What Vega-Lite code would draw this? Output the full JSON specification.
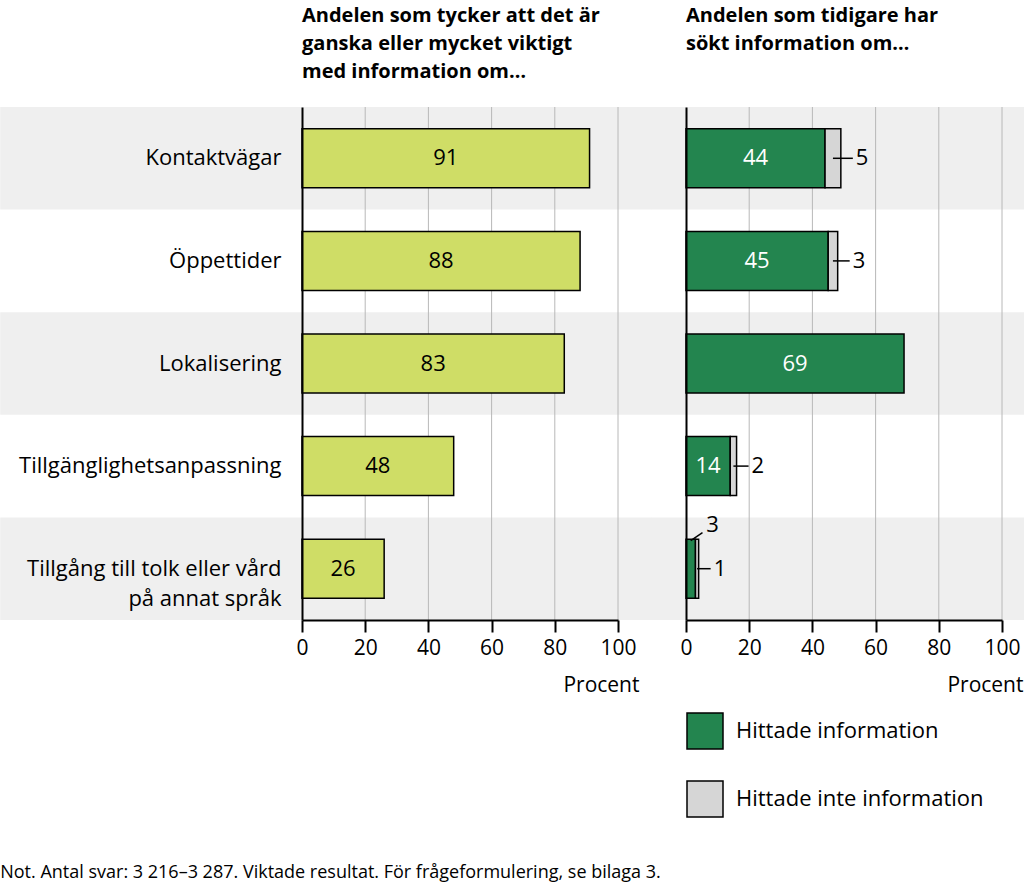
{
  "$schema": "https://vega.github.io/schema/vega-lite/v6.json",
  "padding": {"top": 5, "left": 0, "right": 0, "bottom": 0},
  "autosize": {"type": "pad"},
  "background": "white",
  "config": {"font": "Open Sans", "view": {"stroke": null}, "legend": {"padding": 0}},
  "datasets": {
    "viktigt": [
      {"kategori": "Kontaktvägar", "procent": 91},
      {"kategori": "Öppettider", "procent": 88},
      {"kategori": "Lokalisering", "procent": 83},
      {"kategori": "Tillgänglighetsanpassning", "procent": 48},
      {"kategori": "Tillgång till tolk eller vård på annat språk", "procent": 26}
    ],
    "sokt": [
      {"kategori": "Kontaktvägar", "status": "Hittade information", "procent": 44},
      {"kategori": "Kontaktvägar", "status": "Hittade inte information", "procent": 5},
      {"kategori": "Öppettider", "status": "Hittade information", "procent": 45},
      {"kategori": "Öppettider", "status": "Hittade inte information", "procent": 3},
      {"kategori": "Lokalisering", "status": "Hittade information", "procent": 69},
      {"kategori": "Tillgänglighetsanpassning", "status": "Hittade information", "procent": 14},
      {"kategori": "Tillgänglighetsanpassning", "status": "Hittade inte information", "procent": 2},
      {"kategori": "Tillgång till tolk eller vård på annat språk", "status": "Hittade information", "procent": 3},
      {"kategori": "Tillgång till tolk eller vård på annat språk", "status": "Hittade inte information", "procent": 1}
    ],
    "grid": [{"v": 20}, {"v": 40}, {"v": 60}, {"v": 80}, {"v": 100}]
  },
  "title": {
    "text": "Not. Antal svar: 3 216–3 287. Viktade resultat. För frågeformulering, se bilaga 3.",
    "orient": "bottom", "anchor": "start", "fontSize": 18, "fontWeight": "normal", "color": "black", "offset": 44
  },
  "spacing": 68,
  "bounds": "flush",
  "resolve": {"scale": {"x": "independent", "y": "independent", "color": "independent"}},
  "hconcat": [
    {
      "width": 316, "height": 513,
      "title": {
        "text": ["Andelen som tycker att det är", "ganska eller mycket viktigt", "med information om…"],
        "anchor": "start", "frame": "group", "fontSize": 20, "fontWeight": "bold", "lineHeight": 28, "color": "black", "offset": 25
      },
      "layer": [
        {
          "data": {"name": "viktigt"},
          "transform": [{"filter": {"field": "kategori", "oneOf": ["Kontaktvägar", "Lokalisering", "Tillgång till tolk eller vård på annat språk"]}}],
          "mark": {"type": "rect", "fill": "#efefef"},
          "encoding": {
            "y": {"field": "kategori", "type": "nominal",
              "scale": {"domain": ["Kontaktvägar", "Öppettider", "Lokalisering", "Tillgänglighetsanpassning", "Tillgång till tolk eller vård på annat språk"], "paddingInner": 0, "paddingOuter": 0},
              "axis": {"title": null, "ticks": false, "domain": true, "domainColor": "black", "domainWidth": 2, "labelFontSize": 22, "labelColor": "black", "labelPadding": 21, "labelLimit": 0, "zindex": 1, "labelLineHeight": 30,
                "labelExpr": "datum.value == 'Tillgång till tolk eller vård på annat språk' ? ['Tillgång till tolk eller vård', 'på annat språk'] : datum.label"}},
            "x": {"datum": -95.5, "type": "quantitative"},
            "x2": {"datum": 110.8}
          }
        },
        {
          "data": {"name": "grid"},
          "mark": {"type": "rule", "color": "#b8b8b8", "strokeWidth": 1},
          "encoding": {"x": {"field": "v", "type": "quantitative"}}
        },
        {
          "data": {"name": "viktigt"},
          "mark": {"type": "bar", "fill": "#cfdd66", "stroke": "black", "strokeWidth": 1.5, "height": {"band": 0.575}},
          "encoding": {
            "y": {"field": "kategori", "type": "nominal"},
            "x": {"field": "procent", "type": "quantitative",
              "scale": {"domain": [0, 100], "nice": false},
              "axis": {"title": "Procent", "values": [0, 20, 40, 60, 80, 100], "grid": false, "zindex": 1, "domainColor": "black", "domainWidth": 2, "tickColor": "black", "tickWidth": 2, "tickSize": 12, "labelFontSize": 21, "labelColor": "black", "labelPadding": 5, "labelFlush": false, "labelOverlap": false, "titleFontSize": 21, "titleFontWeight": "normal", "titleColor": "black", "titleX": 337, "titleY": 71, "titleAlign": "right", "titleBaseline": "alphabetic"}}
          }
        },
        {
          "data": {"name": "viktigt"},
          "transform": [{"calculate": "datum.procent / 2", "as": "mitt"}],
          "mark": {"type": "text", "fontSize": 22, "color": "black", "baseline": "middle", "align": "center"},
          "encoding": {
            "y": {"field": "kategori", "type": "nominal"},
            "x": {"field": "mitt", "type": "quantitative"},
            "text": {"field": "procent"}
          }
        }
      ]
    },
    {
      "width": 316, "height": 513,
      "title": {
        "text": ["Andelen som tidigare har", "sökt information om…"],
        "anchor": "start", "frame": "group", "fontSize": 20, "fontWeight": "bold", "lineHeight": 28, "color": "black", "offset": 53
      },
      "layer": [
        {
          "data": {"name": "viktigt"},
          "transform": [{"filter": {"field": "kategori", "oneOf": ["Kontaktvägar", "Lokalisering", "Tillgång till tolk eller vård på annat språk"]}}],
          "mark": {"type": "rect", "fill": "#efefef"},
          "encoding": {
            "y": {"field": "kategori", "type": "nominal",
              "scale": {"domain": ["Kontaktvägar", "Öppettider", "Lokalisering", "Tillgänglighetsanpassning", "Tillgång till tolk eller vård på annat språk"], "paddingInner": 0, "paddingOuter": 0},
              "axis": {"title": null, "ticks": false, "labels": false, "domain": true, "domainColor": "black", "domainWidth": 2, "zindex": 1}},
            "x": {"datum": -10.8, "type": "quantitative"},
            "x2": {"datum": 107.5}
          }
        },
        {
          "data": {"name": "grid"},
          "mark": {"type": "rule", "color": "#b8b8b8", "strokeWidth": 1},
          "encoding": {"x": {"field": "v", "type": "quantitative"}}
        },
        {
          "data": {"name": "sokt"},
          "transform": [
            {"stack": "procent", "groupby": ["kategori"], "sort": [{"field": "status", "order": "ascending"}], "as": ["x0", "x1"]}
          ],
          "mark": {"type": "bar", "stroke": "black", "strokeWidth": 1.5, "height": {"band": 0.575}},
          "encoding": {
            "y": {"field": "kategori", "type": "nominal"},
            "x": {"field": "x0", "type": "quantitative",
              "scale": {"domain": [0, 100], "nice": false},
              "axis": {"title": "Procent", "values": [0, 20, 40, 60, 80, 100], "grid": false, "zindex": 1, "domainColor": "black", "domainWidth": 2, "tickColor": "black", "tickWidth": 2, "tickSize": 12, "labelFontSize": 21, "labelColor": "black", "labelPadding": 5, "labelFlush": false, "labelOverlap": false, "titleFontSize": 21, "titleFontWeight": "normal", "titleColor": "black", "titleX": 337, "titleY": 71, "titleAlign": "right", "titleBaseline": "alphabetic"}},
            "x2": {"field": "x1"},
            "color": {"field": "status", "type": "nominal",
              "scale": {"domain": ["Hittade information", "Hittade inte information"], "range": ["#23854f", "#d6d6d6"]},
              "legend": {"orient": "none", "legendX": 0, "legendY": 605, "title": null, "symbolType": "square", "symbolSize": 1296, "symbolStrokeColor": "black", "symbolStrokeWidth": 1.5, "symbolOpacity": 1, "labelFontSize": 22, "labelColor": "black", "labelLimit": 400, "rowPadding": 26, "labelOffset": 12}}
          }
        },
        {
          "data": {"name": "sokt"},
          "transform": [
            {"stack": "procent", "groupby": ["kategori"], "sort": [{"field": "status", "order": "ascending"}], "as": ["x0", "x1"]},
            {"calculate": "(datum.x0 + datum.x1) / 2", "as": "mitt"},
            {"filter": "datum.status == 'Hittade information' && datum.procent >= 5"}
          ],
          "mark": {"type": "text", "fontSize": 22, "color": "white", "baseline": "middle", "align": "center"},
          "encoding": {
            "y": {"field": "kategori", "type": "nominal"},
            "x": {"field": "mitt", "type": "quantitative"},
            "text": {"field": "procent"}
          }
        },
        {
          "data": {"name": "sokt"},
          "transform": [
            {"stack": "procent", "groupby": ["kategori"], "sort": [{"field": "status", "order": "ascending"}], "as": ["x0", "x1"]},
            {"filter": "datum.status == 'Hittade information' && datum.procent < 5"}
          ],
          "mark": {"type": "text", "fontSize": 22, "color": "black", "baseline": "middle", "align": "center", "dx": 17, "dy": -44},
          "encoding": {
            "y": {"field": "kategori", "type": "nominal"},
            "x": {"field": "x1", "type": "quantitative"},
            "text": {"field": "procent"}
          }
        },
        {
          "data": {"name": "sokt"},
          "transform": [
            {"stack": "procent", "groupby": ["kategori"], "sort": [{"field": "status", "order": "ascending"}], "as": ["x0", "x1"]},
            {"calculate": "(datum.x0 + datum.x1) / 2", "as": "mitt"},
            {"filter": "datum.status == 'Hittade information' && datum.procent < 5"}
          ],
          "mark": {"type": "rule", "color": "black", "strokeWidth": 1.5, "x2Offset": 7, "yOffset": -28, "y2Offset": -36},
          "encoding": {
            "y": {"field": "kategori", "type": "nominal"},
            "y2": {"field": "kategori"},
            "x": {"field": "mitt", "type": "quantitative"},
            "x2": {"field": "x1"}
          }
        },
        {
          "data": {"name": "sokt"},
          "transform": [
            {"stack": "procent", "groupby": ["kategori"], "sort": [{"field": "status", "order": "ascending"}], "as": ["x0", "x1"]},
            {"filter": "datum.status == 'Hittade inte information'"}
          ],
          "mark": {"type": "text", "fontSize": 22, "color": "black", "baseline": "middle", "align": "left", "dx": 15},
          "encoding": {
            "y": {"field": "kategori", "type": "nominal"},
            "x": {"field": "x1", "type": "quantitative"},
            "text": {"field": "procent"}
          }
        },
        {
          "data": {"name": "sokt"},
          "transform": [
            {"stack": "procent", "groupby": ["kategori"], "sort": [{"field": "status", "order": "ascending"}], "as": ["x0", "x1"]},
            {"calculate": "(datum.x0 + datum.x1) / 2", "as": "mitt"},
            {"filter": "datum.status == 'Hittade inte information'"}
          ],
          "mark": {"type": "rule", "color": "black", "strokeWidth": 1.5, "x2Offset": 12},
          "encoding": {
            "y": {"field": "kategori", "type": "nominal"},
            "x": {"field": "mitt", "type": "quantitative"},
            "x2": {"field": "x1"}
          }
        }
      ]
    }
  ]
}
